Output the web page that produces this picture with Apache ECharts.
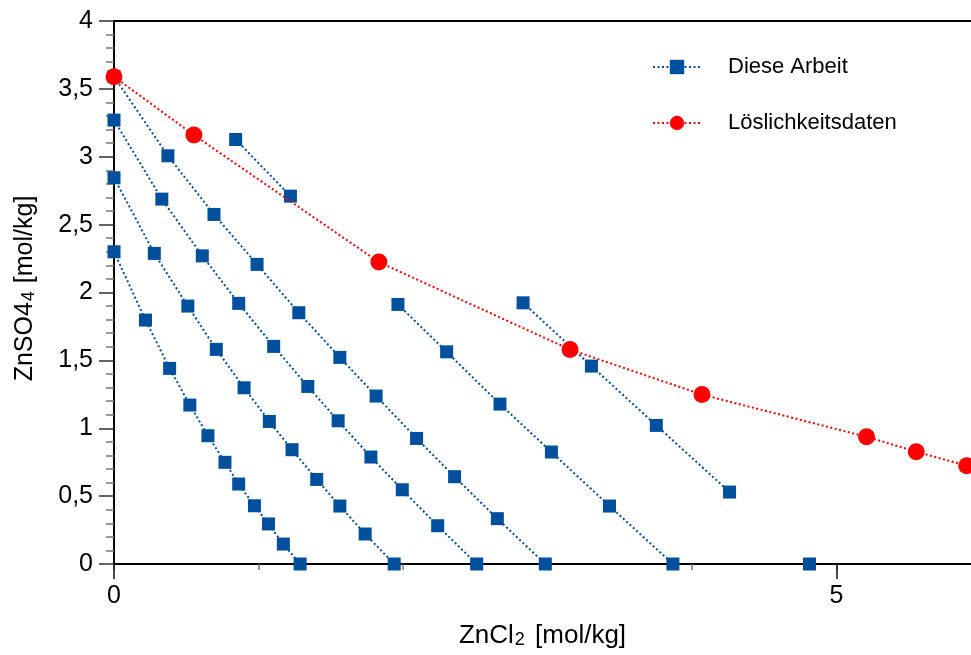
<!DOCTYPE html>
<html>
<head>
<meta charset="utf-8">
<script src="https://cdn.jsdelivr.net/npm/echarts@6/dist/echarts.min.js"></script>
<style>
  html, body { margin: 0; padding: 0; background: #fff; }
  #chart { width: 971px; height: 655px; }
</style>
</head>
<body>
<div id="chart"></div>
<script>
// ---- Data (ZnCl2 [mol/kg], ZnSO4 [mol/kg]) ----
const seriesNameBlue = 'Diese Arbeit';
const seriesNameRed = 'Löslichkeitsdaten';

const line1 = [[0, 2.30], [0.218, 1.797], [0.385, 1.441], [0.525, 1.171], [0.65, 0.945], [0.768, 0.749], [0.863, 0.589], [0.972, 0.429], [1.069, 0.295], [1.172, 0.147], [1.288, 0]];
const line2 = [[0, 2.845], [0.279, 2.288], [0.511, 1.90], [0.708, 1.581], [0.90, 1.298], [1.075, 1.05], [1.232, 0.842], [1.403, 0.623], [1.563, 0.427], [1.738, 0.221], [1.939, 0]];
const line3 = [[0, 3.27], [0.331, 2.688], [0.611, 2.27], [0.863, 1.92], [1.105, 1.603], [1.341, 1.308], [1.551, 1.055], [1.778, 0.788], [1.995, 0.547], [2.24, 0.282], [2.51, 0]];
const line4 = [[0, 3.59], [0.373, 3.007], [0.692, 2.575], [0.99, 2.207], [1.279, 1.851], [1.563, 1.522], [1.814, 1.237], [2.094, 0.925], [2.357, 0.643], [2.653, 0.334], [2.985, 0]];
const line5 = [[0.842, 3.127], [1.221, 2.71]];
const line6 = [[1.965, 1.912], [2.302, 1.563], [2.671, 1.178], [3.027, 0.825], [3.429, 0.427], [3.868, 0]];
const line7 = [[2.831, 1.924], [3.304, 1.458], [3.753, 1.021], [4.26, 0.53]];
const line8 = [[4.813, 0]];
const blueLines = [line1, line2, line3, line4, line5, line6, line7, line8];

const solubility = [[0, 3.59], [0.553, 3.16], [1.833, 2.224], [3.156, 1.58], [4.069, 1.248], [5.208, 0.937], [5.552, 0.827], [5.901, 0.724]];

const xMajorLabels = [0, 5];
const yTickLabels = ['0', '0,5', '1', '1,5', '2', '2,5', '3', '3,5', '4'];

// ---- Styles ----
const BLUE = '#00509E';
const RED = '#FF0000';
const FONT = "'Liberation Sans', Arial, sans-serif";

const blueSeries = blueLines.map(function (pts) {
  return {
    name: seriesNameBlue,
    type: 'line',
    xAxisIndex: 0,
    data: pts,
    symbol: 'rect',
    symbolSize: 13,
    showSymbol: true,
    itemStyle: { color: BLUE },
    lineStyle: { color: BLUE, width: 2, type: [2, 2.5] },
    z: 2
  };
});

const redSeries = {
  name: seriesNameRed,
  type: 'line',
  xAxisIndex: 0,
  data: solubility,
  symbol: 'circle',
  symbolSize: 17,
  itemStyle: { color: RED },
  lineStyle: { color: RED, width: 2, type: [2, 2.5] },
  z: 3
};

const chart = echarts.init(document.getElementById('chart'), null, { renderer: 'canvas' });
chart.setOption({
  animation: false,
  backgroundColor: '#fff',
  textStyle: { fontFamily: FONT },
  grid: {
    left: 114, top: 21, right: -10, bottom: 91,
    containLabel: false,
    outerBoundsMode: 'none',
    show: true, borderColor: '#000', borderWidth: 2, backgroundColor: 'transparent'
  },
  legend: {
    orient: 'vertical',
    left: 652,
    top: 56,
    padding: 0,
    itemWidth: 48,
    itemHeight: 18,
    itemGap: 34,
    data: [seriesNameBlue, seriesNameRed],
    textStyle: { fontFamily: FONT, fontSize: 22, color: '#000', padding: [0, 0, 0, 22] }
  },
  xAxis: [
    {
      type: 'value', min: 0, max: 6, interval: 1, position: 'bottom',
      axisLine: { show: true, onZero: false, lineStyle: { color: '#000', width: 2 } },
      axisTick: { show: true, length: 6, lineStyle: { color: '#777', width: 1.5 } },
      axisLabel: { show: false },
      splitLine: { show: false },
      name: '{a|ZnCl}{s|2}{a| [mol/kg]}',
      nameLocation: 'middle',
      nameGap: 55,
      nameTextStyle: {
        padding: [0, 10, 0, 0],
        rich: {
          a: { fontFamily: FONT, fontSize: 26, color: '#000', lineHeight: 30, verticalAlign: 'bottom' },
          s: { fontFamily: FONT, fontSize: 18, color: '#000', lineHeight: 10, verticalAlign: 'bottom', padding: [0, 3, 0, 1] }
        }
      }
    },
    {
      type: 'value', min: 0, max: 6, interval: 5, position: 'bottom',
      axisLine: { show: false, onZero: false },
      axisTick: { show: true, length: 15, lineStyle: { color: '#111', width: 1.5 } },
      axisLabel: {
        show: true, margin: 20, fontSize: 25, color: '#000', fontFamily: FONT,
        formatter: function (v) { return xMajorLabels.indexOf(v) >= 0 ? String(v) : ''; }
      },
      splitLine: { show: false }
    }
  ],
  yAxis: {
    type: 'value', min: 0, max: 4, interval: 0.5,
    axisLine: { show: true, onZero: false, lineStyle: { color: '#000', width: 2 } },
    axisTick: { show: true, length: 15, lineStyle: { color: '#333', width: 1.5 } },
    minorTick: { show: true, splitNumber: 5, length: 8, lineStyle: { color: '#777', width: 1.5 } },
    minorSplitLine: { show: false },
    splitLine: { show: false },
    axisLabel: {
      margin: 21, fontSize: 25, color: '#000', fontFamily: FONT,
      formatter: function (v) { return yTickLabels[Math.round(v / 0.5)]; }
    },
    name: '{a|ZnSO4}{s|4}{a| [mol/kg]}',
    nameLocation: 'middle',
    nameRotate: 90,
    nameGap: 76,
    nameTextStyle: {
      padding: [0, 0, 0, 8],
      rich: {
        a: { fontFamily: FONT, fontSize: 25, color: '#000', lineHeight: 30, verticalAlign: 'bottom' },
        s: { fontFamily: FONT, fontSize: 18, color: '#000', lineHeight: 10, verticalAlign: 'bottom', padding: [0, 1, 0, 1] }
      }
    }
  },
  series: blueSeries.concat([redSeries])
});
</script>
</body>
</html>
